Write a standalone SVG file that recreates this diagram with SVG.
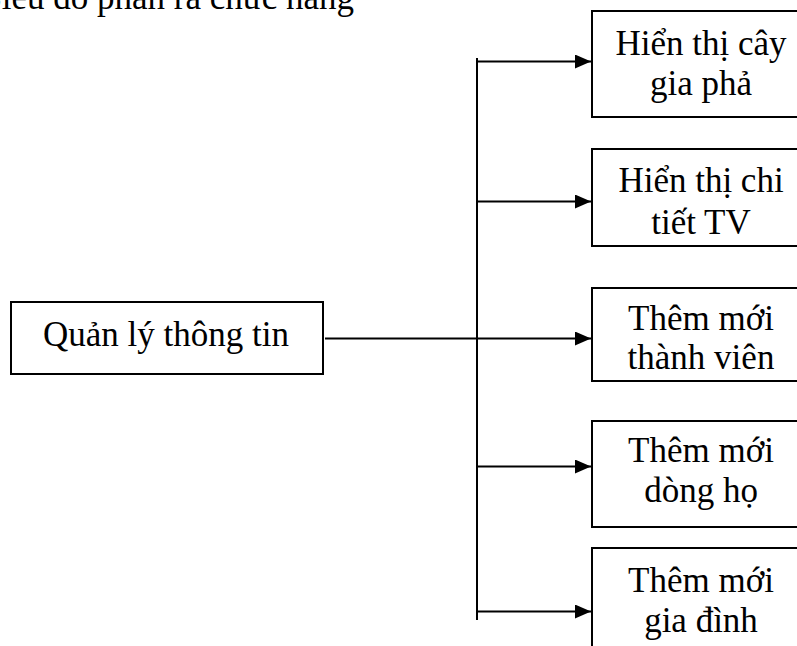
<svg xmlns="http://www.w3.org/2000/svg" width="797" height="646" viewBox="0 0 797 646">
  <style>
    text { font-family: "Liberation Serif", "Times New Roman", serif; font-size: 35px; fill: #000; }
    .box { fill: #fff; stroke: #000; stroke-width: 2; }
    .ctr { text-anchor: middle; }
    .wire { stroke: #000; stroke-width: 2; fill: none; }
  </style>
  <defs>
    <marker id="arrow" markerWidth="16" markerHeight="14" refX="16" refY="7" orient="auto" markerUnits="userSpaceOnUse">
      <path d="M0,0 L16,7 L0,14 Z" fill="#000"/>
    </marker>
  </defs>
  <rect width="797" height="646" fill="#fff"/>

  <!-- heading, partly above the page edge -->
  <text id="title" x="354" y="9" text-anchor="end">Biểu đồ phân rã chức năng</text>

  <!-- connectors -->
  <g id="connectors">
    <line class="wire" x1="477" y1="58" x2="477" y2="620"/>
    <line class="wire" x1="325" y1="338.5" x2="477" y2="338.5"/>
    <line class="wire" x1="477" y1="61.5" x2="591" y2="61.5" marker-end="url(#arrow)"/>
    <line class="wire" x1="477" y1="201.5" x2="591" y2="201.5" marker-end="url(#arrow)"/>
    <line class="wire" x1="477" y1="338.5" x2="591" y2="338.5" marker-end="url(#arrow)"/>
    <line class="wire" x1="477" y1="466.5" x2="591" y2="466.5" marker-end="url(#arrow)"/>
    <line class="wire" x1="477" y1="611.5" x2="591" y2="611.5" marker-end="url(#arrow)"/>
  </g>

  <!-- root function -->
  <g id="quan-ly-thong-tin">
    <rect class="box" x="11" y="302" width="312" height="72"/>
    <text class="ctr" x="166" y="346">Quản lý thông tin</text>
  </g>

  <!-- sub-functions -->
  <g id="hien-thi-cay-gia-pha">
    <rect class="box" x="592" y="11" width="220" height="106"/>
    <text class="ctr" x="701" y="55">Hiển thị cây</text>
    <text class="ctr" x="701" y="95">gia phả</text>
  </g>

  <g id="hien-thi-chi-tiet-tv">
    <rect class="box" x="592" y="149" width="220" height="97"/>
    <text class="ctr" x="701" y="192">Hiển thị chi</text>
    <text class="ctr" x="701" y="234">tiết TV</text>
  </g>

  <g id="them-moi-thanh-vien">
    <rect class="box" x="592" y="288" width="220" height="93"/>
    <text class="ctr" x="701" y="330">Thêm mới</text>
    <text class="ctr" x="701" y="369">thành viên</text>
  </g>

  <g id="them-moi-dong-ho">
    <rect class="box" x="592" y="421" width="220" height="106"/>
    <text class="ctr" x="701" y="462">Thêm mới</text>
    <text class="ctr" x="701" y="502">dòng họ</text>
  </g>

  <g id="them-moi-gia-dinh">
    <rect class="box" x="592" y="548" width="220" height="110"/>
    <text class="ctr" x="701" y="592">Thêm mới</text>
    <text class="ctr" x="701" y="632">gia đình</text>
  </g>
</svg>
